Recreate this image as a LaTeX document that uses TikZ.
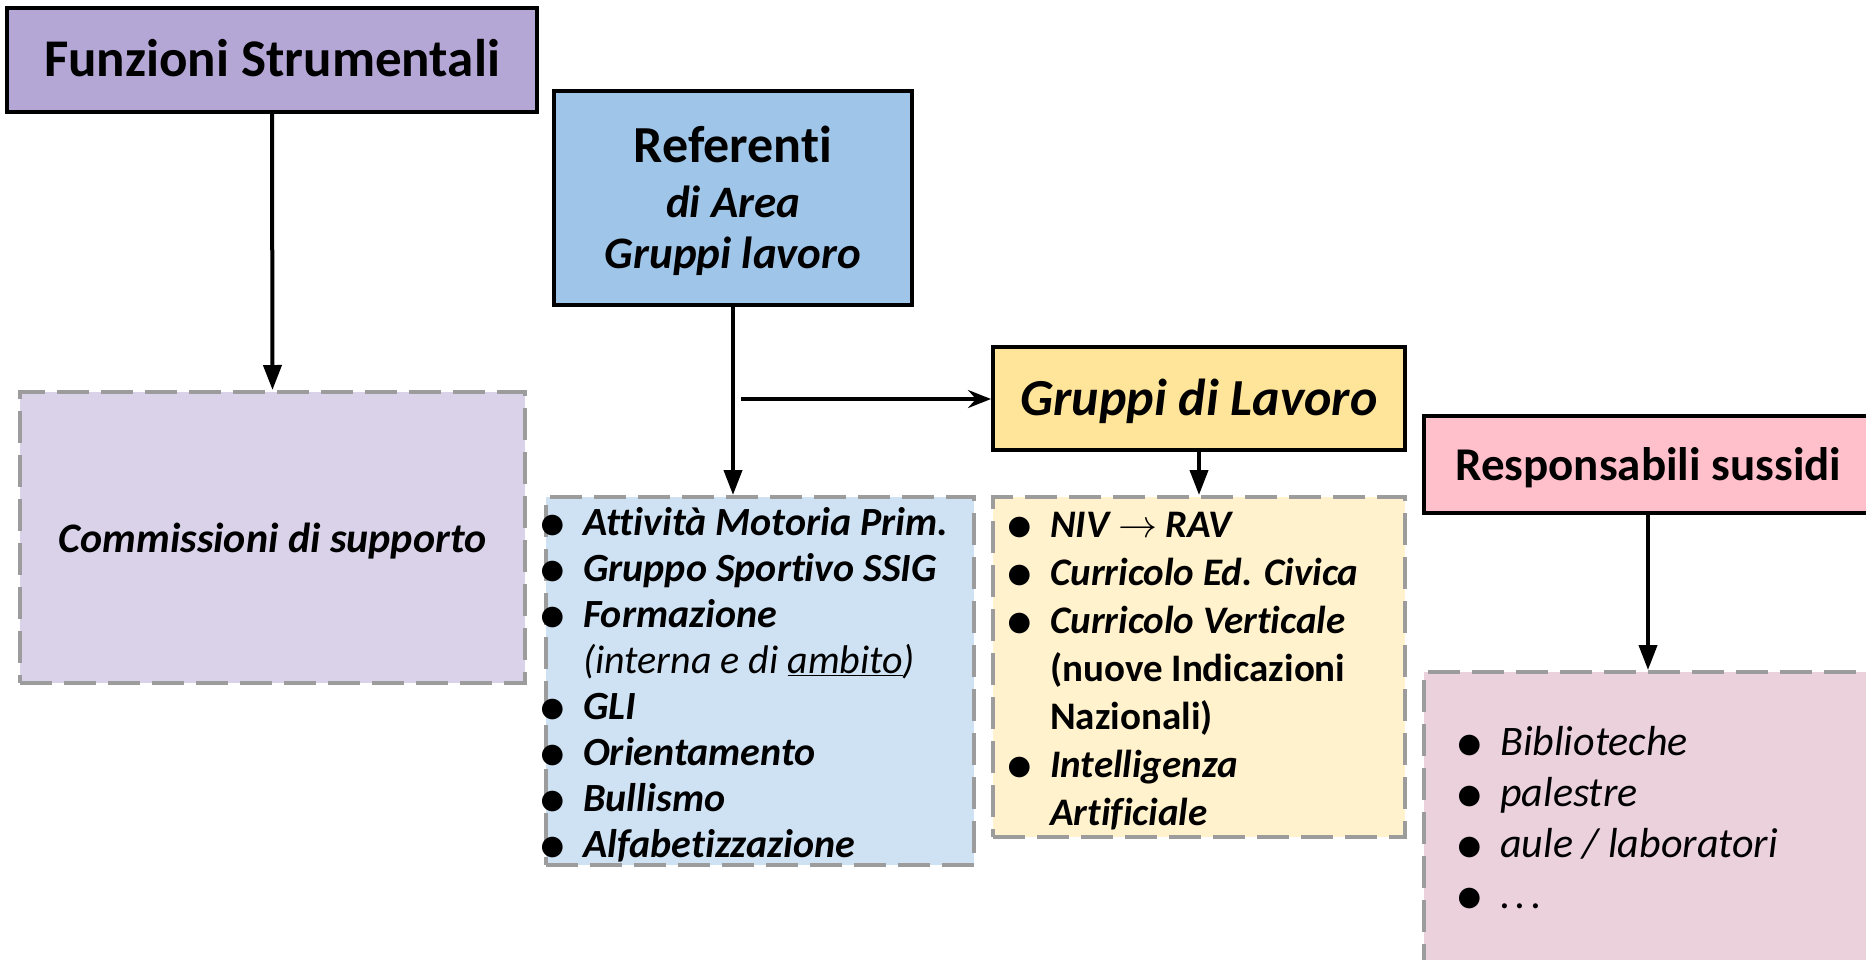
\RequirePackage{fix-cm}
\documentclass[tikz,border=0pt]{standalone}
\usepackage{fontspec}
\setmainfont{Carlito}[Ligatures=NoCommon, RawFeature={-liga;-clig;-dlig}]
\newfontfamily\dejavu{DejaVu Sans}
\usetikzlibrary{arrows.meta}
\definecolor{fsfill}{HTML}{B4A7D6}
\definecolor{reffill}{HTML}{9FC5E8}
\definecolor{gdlfill}{HTML}{FFE599}
\definecolor{respfill}{HTML}{FFBFCB}
\definecolor{commfill}{HTML}{D9D2E9}
\definecolor{bluefill}{HTML}{CFE2F3}
\definecolor{yelfill}{HTML}{FFF2CC}
\definecolor{pinkfill}{HTML}{EAD1DC}
\definecolor{dashgray}{HTML}{9C9C9C}
\newcommand{\blt}{\llap{\raisebox{3pt}{\dejavu\fontsize{27}{27}\selectfont ●}\hspace*{19pt}}}
\begin{document}
\begin{tikzpicture}[x=1pt,y=-1pt,
  hbox/.style={draw=black, line width=4pt, rectangle, inner sep=0pt},
  dbox/.style={draw=dashgray, line width=4pt, dash pattern=on 32pt off 12pt, rectangle, inner sep=0pt},
  conn/.style={line width=4pt, -{Triangle[length=25pt,width=18pt]}},
  hconn/.style={line width=4pt, -{Stealth[length=23pt,width=18pt,inset=8pt]}},
  txt/.style={anchor=base, inner sep=0pt},
  ltxt/.style={anchor=base west, inner sep=0pt}]
\useasboundingbox (0,0) rectangle (1866,959);
% boxes
\node[hbox, fill=fsfill, minimum width=530pt, minimum height=104pt] (fs) at (272,60) {};
\node[hbox, fill=reffill, minimum width=358pt, minimum height=214pt] (ref) at (733,198) {};
\node[hbox, fill=gdlfill, minimum width=412pt, minimum height=103pt] (gdl) at (1199,398.5) {};
\node[hbox, fill=respfill, minimum width=448pt, minimum height=97pt] (resp) at (1648,464.5) {};
\node[dbox, fill=commfill, minimum width=505pt, minimum height=291pt] (comm) at (272.5,537.5) {};
\node[dbox, fill=bluefill, minimum width=428pt, minimum height=368pt] (blue) at (760,681) {};
\node[dbox, fill=yelfill, minimum width=412pt, minimum height=340pt] (yel) at (1199,667) {};
\node[dbox, fill=pinkfill, minimum width=448pt, minimum height=328pt] (pink) at (1648,836) {};
% connectors
\draw[conn] (fs.south) -- (comm.north);
\draw[conn] (ref.south) -- (ref.south |- blue.north);
\coordinate (hstart) at (741,399);
\draw[hconn] (hstart) -- (hstart -| gdl.west);
\draw[conn] (gdl.south) -- (yel.north);
\draw[conn] (resp.south) -- (pink.north);
% titles
\node[txt, font=\fontsize{53}{60}\selectfont\bfseries] (fst) at (272,76) {Funzioni Strumentali};
\node[txt, font=\fontsize{52}{60}\selectfont\bfseries] (reft1) at (733,162) {Referenti};
\node[txt, font=\fontsize{45}{54}\selectfont\bfseries\itshape] (reft2) at (733,217) {di Area};
\node[txt, font=\fontsize{45}{54}\selectfont\bfseries\itshape] (reft3) at (733,268) {Gruppi lavoro};
\node[txt, font=\fontsize{52}{60}\selectfont\bfseries\itshape] (gdlt) at (1199,415) {Gruppi di Lavoro};
\node[txt, font=\fontsize{42}{50}\selectfont\bfseries\itshape] (commt) at (272.5,552) {Commissioni di supporto};
\node[ltxt, font=\fontsize{47}{56}\selectfont\bfseries] (respt) at (1455,480) {Responsabili sussidi};
% blue list
\begin{scope}[every node/.append style={ltxt, font=\fontsize{40}{46}\selectfont\bfseries\itshape}]
\node (b1) at (583,535) {\blt Attività Motoria Prim.};
\node (b2) at (583,581) {\blt Gruppo Sportivo SSIG};
\node (b3) at (583,627) {\blt Formazione};
\node (b4) at (583,673) {\mdseries(interna e di \underline{ambito})};
\node (b5) at (583,719) {\blt GLI};
\node (b6) at (583,765) {\blt Orientamento};
\node (b7) at (583,811) {\blt Bullismo};
\node (b8) at (583,857) {\blt Alfabetizzazione};
\end{scope}
% yellow list
\begin{scope}[every node/.append style={ltxt, font=\fontsize{39}{48}\selectfont\bfseries\itshape}]
\node (y1) at (1050,537) {\blt NIV $\rightarrow$ RAV};
\node (y2) at (1050,585) {\blt Curricolo Ed. Civica};
\node (y3) at (1050,633) {\blt Curricolo Verticale};
\node (y4) at (1050,681) {\upshape(nuove Indicazioni};
\node (y5) at (1050,729) {\upshape Nazionali)};
\node (y6) at (1050,777) {\blt Intelligenza};
\node (y7) at (1050,825) {Artificiale};
\end{scope}
% pink list
\begin{scope}[every node/.append style={ltxt, font=\fontsize{42}{51}\selectfont\itshape}]
\node (p1) at (1500,755) {\blt Biblioteche};
\node (p2) at (1500,806) {\blt palestre};
\node (p3) at (1500,857) {\blt aule / laboratori};
\node (p4) at (1500,908) {\blt .\hspace{0.12em}.\hspace{0.12em}.};
\end{scope}
\end{tikzpicture}
\end{document}
